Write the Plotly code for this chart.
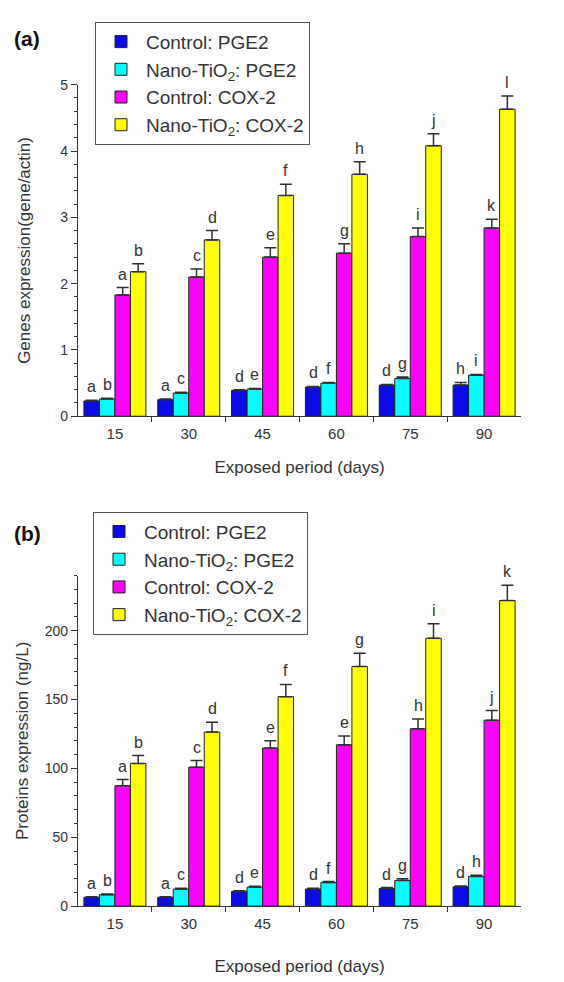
import plotly.graph_objects as go

# Exposure periods (days)
days = ["15", "30", "45", "60", "75", "90"]

series_names = [
    "Control: PGE2",
    "Nano-TiO<sub>2</sub>: PGE2",
    "Control: COX-2",
    "Nano-TiO<sub>2</sub>: COX-2",
]
series_colors = ["#0b0be8", "#00ffff", "#ff00ff", "#ffff00"]

# (a) Genes expression (gene/actin)
gene_ctrl_pge2 = [0.23, 0.25, 0.39, 0.44, 0.47, 0.47]
gene_ctrl_pge2_err = [0.01, 0.01, 0.01, 0.01, 0.01, 0.04]
gene_nano_pge2 = [0.26, 0.35, 0.41, 0.50, 0.57, 0.62]
gene_nano_pge2_err = [0.01, 0.01, 0.01, 0.01, 0.02, 0.01]
gene_ctrl_cox2 = [1.83, 2.10, 2.40, 2.46, 2.71, 2.84]
gene_ctrl_cox2_err = [0.11, 0.12, 0.14, 0.14, 0.13, 0.13]
gene_nano_cox2 = [2.18, 2.66, 3.33, 3.65, 4.08, 4.63]
gene_nano_cox2_err = [0.12, 0.14, 0.17, 0.19, 0.18, 0.20]

gene_letters_ctrl_pge2 = ["a", "a", "d", "d", "d", "h"]
gene_letters_nano_pge2 = ["b", "c", "e", "f", "g", "i"]
gene_letters_ctrl_cox2 = ["a", "c", "e", "g", "i", "k"]
gene_letters_nano_cox2 = ["b", "d", "f", "h", "j", "l"]

# (b) Proteins expression (ng/L)
prot_ctrl_pge2 = [6.4, 6.4, 10.7, 12.4, 12.9, 14.0]
prot_ctrl_pge2_err = [0.4, 0.4, 0.5, 0.5, 0.6, 0.6]
prot_nano_pge2 = [8.3, 12.4, 13.8, 17.1, 18.6, 21.6]
prot_nano_pge2_err = [0.5, 0.6, 0.6, 0.7, 1.2, 0.8]
prot_ctrl_cox2 = [87.4, 100.9, 114.8, 117.1, 128.8, 135.0]
prot_ctrl_cox2_err = [4.5, 4.8, 5.2, 6.5, 7.1, 7.0]
prot_nano_cox2 = [103.6, 126.4, 152.1, 174.0, 194.5, 221.9]
prot_nano_cox2_err = [5.7, 7.2, 8.9, 9.6, 10.5, 11.1]

prot_letters_ctrl_pge2 = ["a", "a", "d", "d", "d", "d"]
prot_letters_nano_pge2 = ["b", "c", "e", "f", "g", "h"]
prot_letters_ctrl_cox2 = ["a", "c", "e", "e", "h", "j"]
prot_letters_nano_cox2 = ["b", "d", "f", "g", "i", "k"]

FONT = "Liberation Sans, Arial, sans-serif"
TEXT = "#333333"
BARGAP = 0.16
N_SERIES = 4
bar_w = (1 - BARGAP) / N_SERIES
offsets = [(k - (N_SERIES - 1) / 2) * bar_w for k in range(N_SERIES)]
xs = list(range(len(days)))

panels = [
    dict(
        xa="x", ya="y", legend="legend",
        values=[gene_ctrl_pge2, gene_nano_pge2, gene_ctrl_cox2, gene_nano_cox2],
        errors=[gene_ctrl_pge2_err, gene_nano_pge2_err, gene_ctrl_cox2_err, gene_nano_cox2_err],
        letters=[gene_letters_ctrl_pge2, gene_letters_nano_pge2,
                 gene_letters_ctrl_cox2, gene_letters_nano_cox2],
    ),
    dict(
        xa="x2", ya="y2", legend="legend2",
        values=[prot_ctrl_pge2, prot_nano_pge2, prot_ctrl_cox2, prot_nano_cox2],
        errors=[prot_ctrl_pge2_err, prot_nano_pge2_err, prot_ctrl_cox2_err, prot_nano_cox2_err],
        letters=[prot_letters_ctrl_pge2, prot_letters_nano_pge2,
                 prot_letters_ctrl_cox2, prot_letters_nano_cox2],
    ),
]

fig = go.Figure()
annotations = []

for p in panels:
    for k in range(N_SERIES):
        fig.add_trace(go.Bar(
            x=xs, y=p["values"][k],
            name=series_names[k],
            marker=dict(color=series_colors[k], line=dict(color="#202020", width=1)),
            error_y=dict(type="data", array=p["errors"][k], symmetric=False,
                         arrayminus=[0] * len(days), color="#303030",
                         thickness=1.5, width=6),
            xaxis=p["xa"], yaxis=p["ya"], legend=p["legend"],
        ))
        # significance letters above each error bar
        for i in xs:
            annotations.append(dict(
                x=i + offsets[k], y=p["values"][k][i] + p["errors"][k][i],
                xref=p["xa"], yref=p["ya"], text=p["letters"][k][i],
                showarrow=False, yanchor="bottom", yshift=3,
                font=dict(family=FONT, size=16, color=TEXT),
            ))

# panel tags
annotations.append(dict(text="<b>(a)</b>", x=12 / 564, y=1 - 31 / 982, xref="paper", yref="paper",
                        xanchor="left", yanchor="middle", showarrow=False,
                        font=dict(family=FONT, size=21, color="#111111")))
annotations.append(dict(text="<b>(b)</b>", x=12 / 564, y=1 - 534 / 982, xref="paper", yref="paper",
                        xanchor="left", yanchor="middle", showarrow=False,
                        font=dict(family=FONT, size=21, color="#111111")))

x_domain = [78 / 564, 521 / 564]

common_x = dict(
    range=[-0.5, 5.5], tickvals=xs, ticktext=days, ticks="", showgrid=False, zeroline=False,
    showline=True, linecolor="#333333", linewidth=1.2, ticklabelstandoff=4,
    tickfont=dict(family=FONT, size=15, color=TEXT),
    minor=dict(tickvals=[i + 0.5 for i in range(len(days) - 1)], ticks="outside",
               ticklen=5, tickcolor="#333333", showgrid=False),
)
common_y = dict(
    showgrid=False, zeroline=False, showline=True, linecolor="#333333", linewidth=1.2,
    ticks="outside", ticklen=6, tickcolor="#333333",
    tickfont=dict(family=FONT, size=14, color=TEXT),
)
xtitle_font = dict(family=FONT, size=17, color=TEXT)

legend_style = dict(
    xanchor="left", yanchor="top", bgcolor="white", bordercolor="#555555", borderwidth=1,
    font=dict(family=FONT, size=19, color=TEXT), itemwidth=40, tracegroupgap=0,
)

fig.update_layout(
    width=564, height=982,
    margin=dict(l=0, r=0, t=0, b=0),
    paper_bgcolor="white", plot_bgcolor="white",
    barmode="group", bargap=BARGAP, bargroupgap=0,
    font=dict(family=FONT, color=TEXT),
    xaxis=dict(common_x, domain=x_domain, anchor="y",
               title=dict(text="Exposed period (days)", font=xtitle_font, standoff=19)),
    xaxis2=dict(common_x, domain=x_domain, anchor="y2",
                title=dict(text="Exposed period (days)", font=xtitle_font, standoff=28)),
    yaxis=dict(common_y, domain=[1 - 415 / 982, 1 - 78 / 982], anchor="x",
               range=[0, 5], tickvals=[0, 1, 2, 3, 4, 5],
               minor=dict(dtick=0.2, ticks="outside", ticklen=3, tickcolor="#333333", showgrid=False),
               title=dict(text="Genes expression(gene/actin)",
                          font=dict(family=FONT, size=17, color=TEXT), standoff=25)),
    yaxis2=dict(common_y, domain=[1 - 913 / 982, 1 - 577 / 982], anchor="x2",
                range=[0, 240], tickvals=[0, 50, 100, 150, 200],
                minor=dict(dtick=10, ticks="outside", ticklen=3, tickcolor="#333333", showgrid=False),
                title=dict(text="Proteins expression (ng/L)",
                           font=dict(family=FONT, size=17, color=TEXT), standoff=11)),
    legend=dict(legend_style, x=95 / 564, y=1 - 14 / 982),
    legend2=dict(legend_style, x=93 / 564, y=1 - 512 / 982),
    annotations=annotations,
    showlegend=True,
)

fig.write_html("out.html")
